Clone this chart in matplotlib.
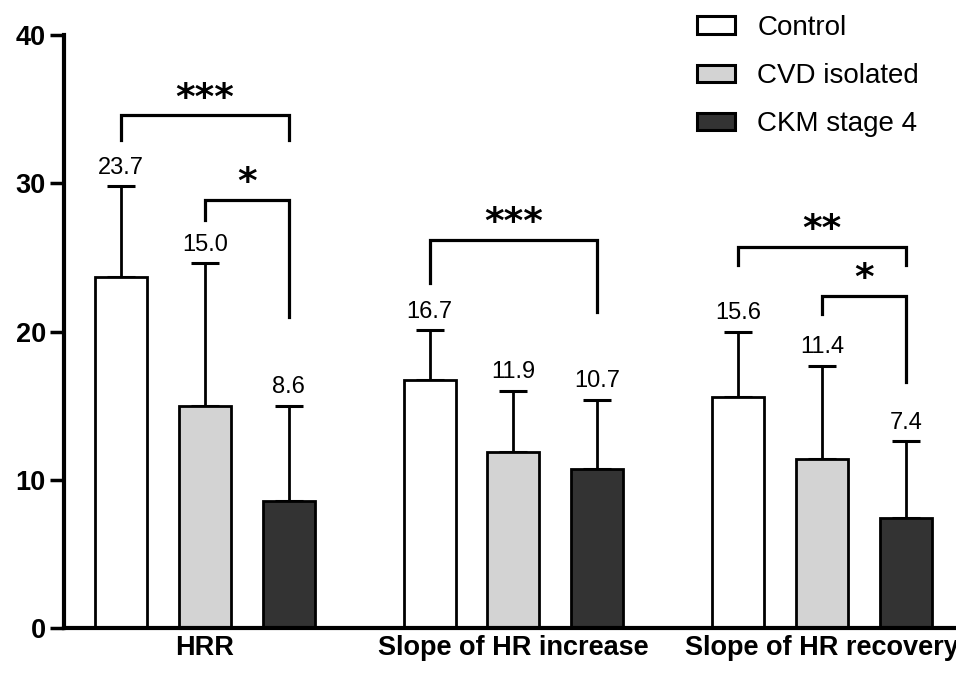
import numpy as np
import matplotlib
matplotlib.use('Agg')
import matplotlib.pyplot as plt
from matplotlib.patches import Patch

plt.rcParams['font.family'] = ['Liberation Sans', 'DejaVu Sans']

groups = ['HRR', 'Slope of HR increase', 'Slope of HR recovery']
series = ['Control', 'CVD isolated', 'CKM stage 4']
means = {
    'Control':      [23.7, 16.7, 15.6],
    'CVD isolated': [15.0, 11.9, 11.4],
    'CKM stage 4':  [8.6, 10.7, 7.4],
}
err_top = {
    'Control':      [29.8, 20.1, 20.0],
    'CVD isolated': [24.6, 16.0, 17.7],
    'CKM stage 4':  [15.0, 15.4, 12.6],
}
colors = ['white', '#d3d3d3', '#333333']

# significance brackets: (group, bar_a, bar_b, bar height, left leg end, right leg end, label)
sig = [
    (0, 0, 2, 34.6, 32.9, 32.9, '***'),
    (0, 1, 2, 28.9, 27.5, 21.0, '*'),
    (1, 0, 2, 26.2, 23.3, 21.3, '***'),
    (2, 0, 2, 25.7, 24.5, 24.5, '**'),
    (2, 1, 2, 22.4, 21.2, 16.6, '*'),
]

gap = 3.68
width = 0.62
fig = plt.figure(figsize=(9.56, 6.77), dpi=100)
ax = fig.add_axes([0.067, 0.0724, 0.933, 0.8757])

def xpos(g, i):
    return g * gap + i

for i, s in enumerate(series):
    xs = [xpos(g, i) for g in range(len(groups))]
    m = np.array(means[s])
    up = np.array(err_top[s]) - m
    ax.bar(xs, m, width, color=colors[i], edgecolor='black', linewidth=2, label=s, zorder=2)
    ax.errorbar(xs, m, yerr=[np.zeros_like(up), up], fmt='none', ecolor='black',
                elinewidth=2, capsize=10, capthick=2.2, zorder=1)
    for x, v, t in zip(xs, m, err_top[s]):
        ax.text(x, t + 0.5, f'{v:.1f}', ha='center', va='bottom', fontsize=17)

for g, a, b, h, la, lb, lab in sig:
    xa, xb = xpos(g, a), xpos(g, b)
    ax.plot([xa, xa, xb, xb], [la, h, h, lb], color='black', lw=2.3, solid_joinstyle='miter')
    ax.text((xa + xb) / 2, h + 0.45, lab, ha='center', va='baseline', fontsize=27,
            fontweight='bold', family='DejaVu Sans')

ax.set_ylim(0, 40)
ax.set_xlim(-0.68, xpos(2, 2) + 0.6)
ax.set_yticks([0, 10, 20, 30, 40])
ax.set_xticks([xpos(g, 1) for g in range(len(groups))])
ax.set_xticklabels(groups, fontsize=19.5, fontweight='bold')
for lbl in ax.get_yticklabels():
    lbl.set_fontweight('bold')
    lbl.set_fontsize(19.5)
ax.tick_params(axis='y', width=2.5, length=10, pad=3)
ax.tick_params(axis='x', length=0, pad=5)
for sp in ['top', 'right']:
    ax.spines[sp].set_visible(False)
for sp in ['left', 'bottom']:
    ax.spines[sp].set_linewidth(3)

handles = [Patch(facecolor=c, edgecolor='black', linewidth=2.2) for c in colors]
fig.legend(handles, series, loc='upper left', bbox_to_anchor=(683 / 956, 1 - 1 / 677),
           frameon=False, borderpad=0, fontsize=20, handlelength=1.37, handleheight=0.58,
           labelspacing=0.8, handletextpad=0.8)

fig.savefig('out.png', dpi=100)
